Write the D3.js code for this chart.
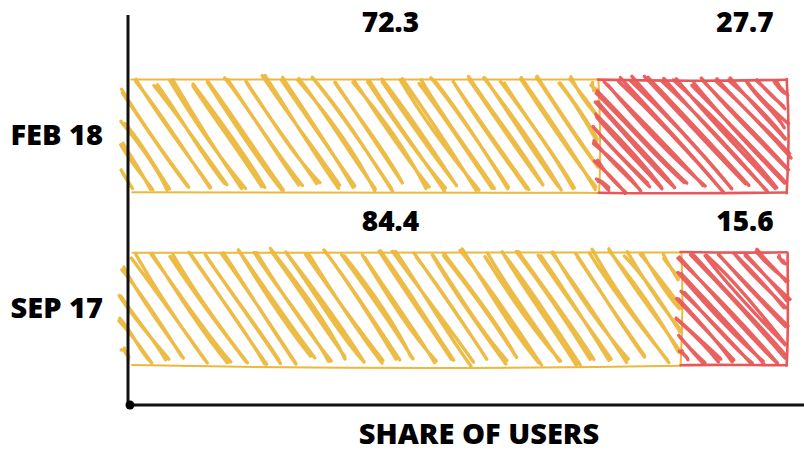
<!DOCTYPE html>
<html>
<head>
  <meta charset="utf-8">
  <title>Share of users</title>
  <script src="https://d3js.org/d3.v7.min.js"></script>
  <style>
    body { margin: 0; background: #fff; }
    text { font-family: "Open Sans", sans-serif; font-weight: 800; fill: #000; }
  </style>
</head>
<body>
  <script>
    // data
    const categories = ["FEB 18", "SEP 17"];
    const keys = ["first", "second"];
    const firstValues = [72.3, 84.4];
    const secondValues = [27.7, 15.6];
    const colors = ["#ECB83D", "#E85858"];

    const width = 804, height = 452;

    const svg = d3.select("body").append("svg")
      .attr("width", width)
      .attr("height", height);

    const table = categories.map((c, i) => ({cat: c, first: firstValues[i], second: secondValues[i]}));
    const stacked = d3.stack().keys(keys)(table);

    const x = d3.scaleLinear().domain([0, 100]).range([108, 787]);
    const y = d3.scaleBand().domain(categories).range([50, 395])
      .paddingInner(0.343).paddingOuter(0.17);
    // rows of the value labels sit above each bar
    const labelY = d3.scalePoint().domain(categories).range([32, 231]);
    const labelX = [41.6, 93.8];
    const plotLeft = 128;

    // small seeded generator so the sketch looks the same every time
    let seed = 11;
    function rand() {
      seed |= 0; seed = seed + 0x6D2B79F5 | 0;
      let t = Math.imul(seed ^ seed >>> 15, 1 | seed);
      t = t + Math.imul(t ^ t >>> 7, 61 | t) ^ t;
      return ((t ^ t >>> 14) >>> 0) / 4294967296;
    }
    const jit = r => (rand() * 2 - 1) * r;

    // one hand drawn stroke between two points
    function stroke(x1, y1, x2, y2, r) {
      const len = Math.hypot(x2 - x1, y2 - y1) || 1;
      const nx = -(y2 - y1) / len, ny = (x2 - x1) / len;
      const bow = jit(Math.min(len * 0.02, 3));
      const p = d3.path();
      p.moveTo(x1 + jit(r), y1 + jit(r));
      p.bezierCurveTo(
        x1 + (x2 - x1) * 0.35 + nx * bow + jit(r), y1 + (y2 - y1) * 0.35 + ny * bow + jit(r),
        x1 + (x2 - x1) * 0.7 + nx * bow + jit(r), y1 + (y2 - y1) * 0.7 + ny * bow + jit(r),
        x2 + jit(r), y2 + jit(r));
      return p.toString();
    }
    function doubleStroke(x1, y1, x2, y2, r) {
      return stroke(x1, y1, x2, y2, r) + stroke(x1, y1, x2, y2, r);
    }

    // diagonal fill lines clipped to a rectangle
    function hachure(x0, x1, y0, y1, gap, slope) {
      const h = y1 - y0, run = h / slope, out = [];
      for (let c = x0 - run + gap * 0.6; c < x1; c += gap * (0.8 + rand() * 0.4)) {
        const ta = Math.max(0, (x0 - c) / run), tb = Math.min(1, (x1 - c) / run);
        if (tb - ta < 0.08) continue;
        const ext = 1 / Math.hypot(run, h);
        const e1 = (rand() * 9 - 3) * ext, e2 = (rand() * 9 - 6) * ext;
        out.push([c + run * (ta - e1), y0 + h * (ta - e1), c + run * (tb + e2), y0 + h * (tb + e2)]);
      }
      return out;
    }

    const fillStyle = [
      {gap: 18, slope: 1.45},
      {gap: 14, slope: 1.05}
    ];

    const layers = svg.append("g").selectAll("g")
      .data(stacked)
      .join("g")
      .attr("stroke", (d, i) => colors[i])
      .attr("fill", "none")
      .attr("stroke-linecap", "round");

    layers.each(function(layer, li) {
      const g = d3.select(this);
      layer.forEach(d => {
        const x0 = Math.max(x(d[0]), plotLeft - 6), x1 = x(d[1]);
        const y0 = y(d.data.cat), y1 = y0 + y.bandwidth();
        const st = fillStyle[li];
        hachure(x0, x1, y0 + 3, y1 - 4, st.gap, st.slope).forEach(l => {
          g.append("path")
            .attr("d", doubleStroke(l[0], l[1], l[2], l[3], 2.4))
            .attr("stroke-width", 3.4)
            .attr("stroke-opacity", 0.95);
        });
        // outline of the bar
        const ox0 = Math.max(x0, plotLeft + 4);
        const ow = li === 0 ? 2 : 2.6;
        [[ox0, y0, x1, y0], [x1, y0, x1, y1], [x1, y1, ox0, y1]].forEach(s => {
          g.append("path")
            .attr("d", stroke(s[0], s[1], s[2], s[3], 0.8))
            .attr("stroke-width", ow);
        });
      });
    });

    // value labels
    svg.append("g").selectAll("g")
      .data(stacked)
      .join("g")
      .selectAll("text")
      .data((layer, li) => layer.map(d => ({cat: d.data.cat, v: d.data[layer.key], li: li})))
      .join("text")
      .attr("x", d => x(labelX[d.li]))
      .attr("y", d => labelY(d.cat))
      .attr("text-anchor", "middle")
      .attr("font-size", 28)
      .text(d => d.v.toFixed(1));

    // left axis with the category names
    const yAxis = svg.append("g")
      .attr("transform", `translate(${plotLeft},0)`)
      .call(d3.axisLeft(y).tickSize(0).tickPadding(25));
    yAxis.select(".domain").remove();
    yAxis.selectAll("text")
      .attr("font-size", 29)
      .attr("font-family", "Open Sans, sans-serif")
      .attr("font-weight", 800)
      .attr("fill", "#000");

    svg.append("line")
      .attr("x1", plotLeft).attr("x2", plotLeft)
      .attr("y1", 15).attr("y2", 405)
      .attr("stroke", "#111").attr("stroke-width", 3);
    svg.append("line")
      .attr("x1", plotLeft).attr("x2", 804)
      .attr("y1", 405).attr("y2", 405)
      .attr("stroke", "#111").attr("stroke-width", 3);
    svg.append("circle")
      .attr("cx", 130).attr("cy", 405).attr("r", 4.5)
      .attr("fill", "#000");

    svg.append("text")
      .attr("x", 479)
      .attr("y", 444)
      .attr("text-anchor", "middle")
      .attr("font-size", 29)
      .text("SHARE OF USERS");
  </script>
</body>
</html>
